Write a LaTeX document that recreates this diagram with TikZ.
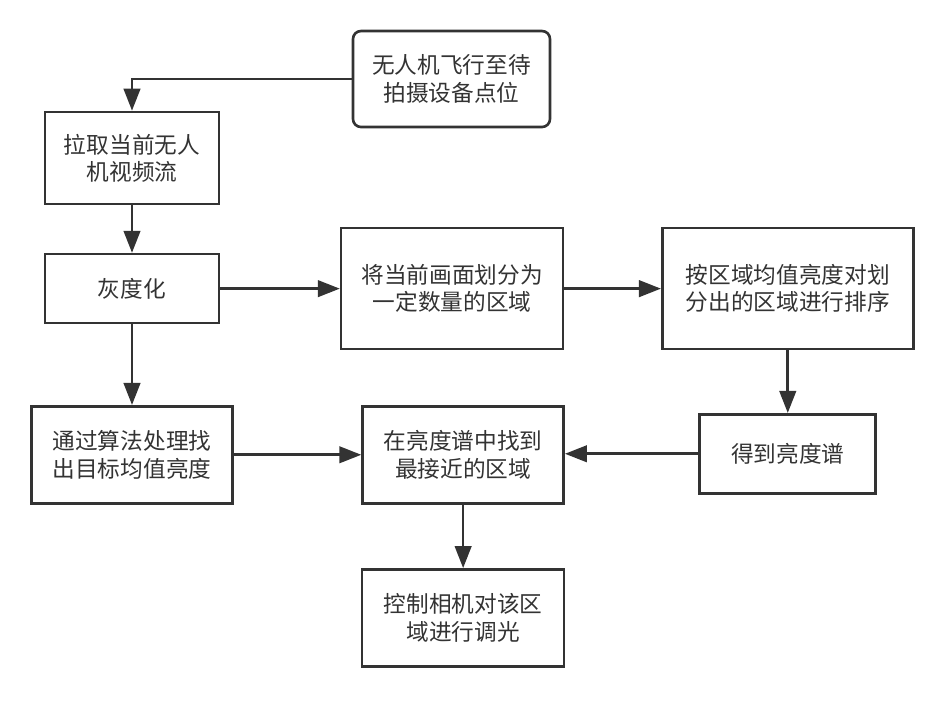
\documentclass[tikz,border=0pt]{standalone}
\usepackage{fontspec}
\setmainfont{Noto Sans CJK SC}
\usepackage{tikz}
\usetikzlibrary{positioning, arrows.meta}

\begin{document}
\begin{tikzpicture}[
    box/.style={draw=black!80, line width=1.5pt, align=center, text=black!80, inner sep=2pt,
        font=\fontsize{12.9}{15.5}\selectfont},
    flow/.style={-{Triangle[length=0.44cm, width=0.33cm]}, draw=black!80, line width=1.5pt}
]
    \useasboundingbox (0,0) rectangle (18.78,-14.16);
    \node (Start) [box, rounded corners=0.16cm, minimum width=3.94cm, minimum height=1.92cm] at (9.03,-1.58) {无人机飞行至待\\拍摄设备点位};
    \node (Pull) [box, minimum width=3.48cm, minimum height=1.84cm] at (2.64,-3.16) {拉取当前无人\\机视频流};
    \node (Gray) [box, minimum width=3.48cm, minimum height=1.38cm, below=0.95cm of Pull] {灰度化};
    \node (Split) [box, minimum width=4.44cm, minimum height=2.42cm, right=2.39cm of Gray] {将当前画面划分为\\一定数量的区域};
    \node (Sort) [box, minimum width=5.02cm, minimum height=2.42cm, right=1.93cm of Split] {按区域均值亮度对划\\分出的区域进行排序};
    \node (Spectrum) [box, minimum width=3.52cm, minimum height=1.58cm, below=1.25cm of Sort] {得到亮度谱};
    \node (Target) [box, minimum width=4.02cm, minimum height=1.94cm, below=1.61cm of Gray] {通过算法处理找\\出目标均值亮度};
    \node (Match) [box, minimum width=4.02cm, minimum height=1.94cm, right=2.55cm of Target] {在亮度谱中找到\\最接近的区域};
    \node (Dim) [box, minimum width=4.04cm, minimum height=1.94cm, below=1.27cm of Match] {控制相机对该区\\域进行调光};
    \draw [flow] (Start.west) -| (Pull.north);
    \draw [flow] (Pull) -- (Gray);
    \draw [flow] (Gray) -- (Split);
    \draw [flow] (Split) -- (Sort);
    \draw [flow] (Sort) -- (Spectrum);
    \draw [flow] (Gray) -- (Target);
    \draw [flow] (Target) -- (Match);
    \draw [flow] (Spectrum.west) -- (Spectrum.west -| Match.east);
    \draw [flow] (Match) -- (Dim);
\end{tikzpicture}
\end{document}
